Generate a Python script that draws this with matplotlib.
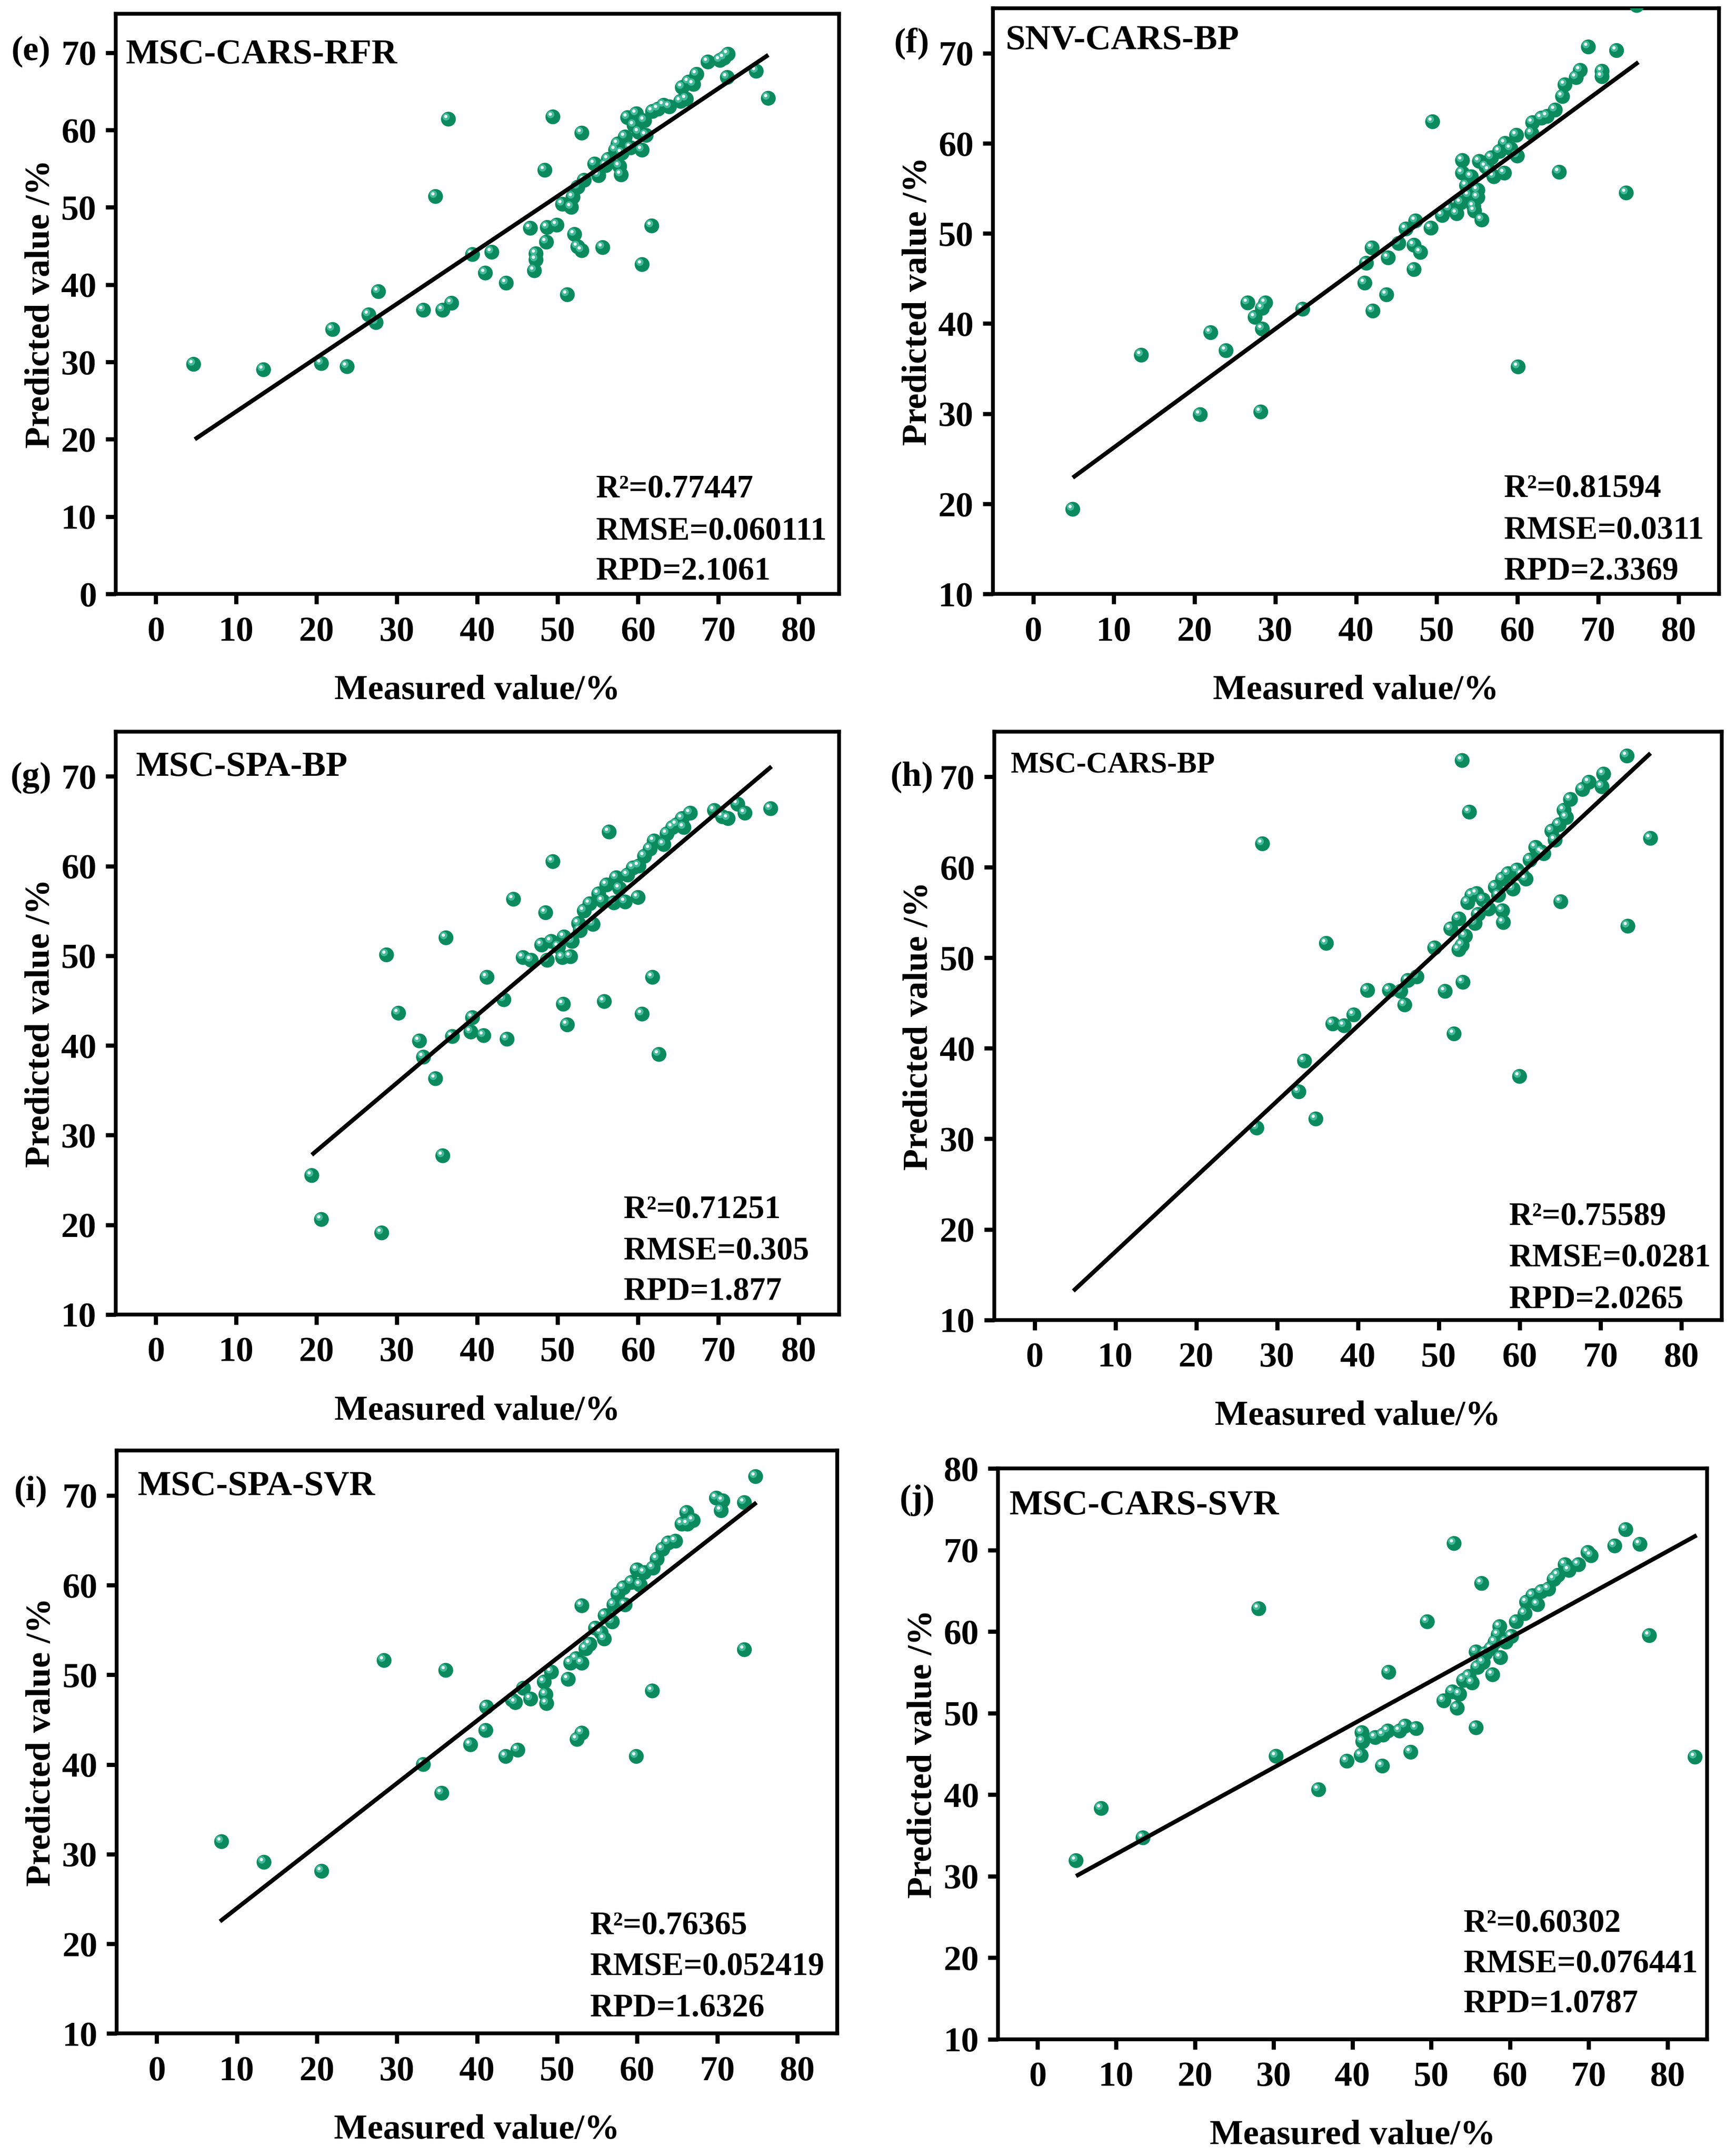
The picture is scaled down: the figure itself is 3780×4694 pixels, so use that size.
import numpy as np
import matplotlib
matplotlib.use('Agg')
import matplotlib.pyplot as plt
from matplotlib.transforms import offset_copy

plt.rcParams['font.family'] = ['Liberation Serif', 'DejaVu Serif']
plt.rcParams['font.weight'] = 'bold'

# (e) MSC-CARS-RFR
e_meas = [4.7, 13.4, 20.6, 22.0, 23.8, 26.5, 27.4, 27.7, 33.3, 35.7, 36.8, 34.8, 36.4, 39.4, 41.8,
          41.0, 43.6, 46.6, 47.3, 47.3, 47.1, 48.7, 49.9, 48.6, 48.4, 49.4, 51.2, 50.6, 51.7, 52.1,
          52.5, 53.0, 51.9, 53.0, 52.5, 53.3, 54.6, 55.1, 55.6, 56.3, 57.2, 57.5, 57.7, 57.9, 58.4,
          58.7, 59.1, 59.8, 60.1, 60.5, 60.8, 61.0, 61.7, 60.5, 61.8, 62.5, 63.2, 63.9, 65.3, 66.0,
          65.5, 66.3, 66.9, 67.3, 68.7, 70.2, 70.7, 71.2, 71.1, 74.7, 76.2, 56.0, 58.0, 59.5]
e_pred = [29.7, 29.0, 29.8, 34.2, 29.4, 36.1, 35.1, 39.1, 36.7, 36.7, 37.6, 51.4, 61.4, 43.9, 44.2,
          41.5, 40.2, 47.3, 44.0, 43.2, 41.8, 47.4, 47.7, 45.5, 54.8, 61.7, 38.7, 50.4, 50.0, 46.5,
          44.9, 44.4, 51.3, 59.6, 52.6, 53.5, 55.6, 54.1, 44.8, 56.2, 57.4, 58.2, 55.3, 54.2, 59.1,
          61.6, 57.7, 62.1, 59.7, 57.4, 61.2, 59.3, 47.6, 42.6, 62.4, 62.7, 63.2, 63.0, 63.7, 64.0,
          65.5, 66.2, 65.9, 67.2, 68.8, 69.0, 69.3, 69.8, 66.8, 67.6, 64.1, 55.4, 57.0, 60.6]
e_line_x = [4.85, 76.2]
e_line_y = [20.0, 69.7]

# (f) SNV-CARS-BP
f_meas = [4.9, 13.4, 20.7, 22.0, 23.9, 26.6, 27.5, 28.4, 28.8, 28.4, 28.2, 33.4, 41.1, 41.3, 42.0,
          42.1, 44.0, 43.8, 45.3, 46.2, 47.2, 48.0, 47.2, 47.4, 49.3, 49.5, 50.7, 51.6, 52.5, 53.0,
          53.2, 53.2, 53.7, 54.3, 54.6, 54.7, 55.1, 55.1, 55.3, 55.6, 56.1, 56.8, 57.1, 57.8, 58.5,
          58.4, 59.2, 59.9, 60.0, 60.1, 61.8, 61.9, 63.0, 63.7, 64.7, 65.2, 65.6, 65.9, 67.3, 67.8,
          68.8, 70.5, 70.5, 72.3, 73.5, 74.8, 54.0, 56.5]
f_pred = [19.4, 36.5, 29.9, 39.0, 37.0, 42.3, 40.7, 41.7, 42.3, 39.4, 30.2, 41.6, 44.5, 46.7, 48.4,
          41.4, 47.3, 43.2, 48.9, 50.5, 48.7, 47.9, 46.0, 51.4, 50.6, 62.4, 52.0, 52.7, 52.2, 53.4,
          58.1, 56.7, 55.3, 56.3, 53.0, 52.5, 54.8, 54.0, 58.0, 51.5, 57.4, 58.4, 56.3, 59.1, 60.0,
          56.7, 59.4, 60.9, 58.6, 35.2, 61.1, 62.3, 62.8, 63.0, 63.7, 56.8, 65.2, 66.5, 67.3, 68.1,
          70.7, 68.0, 67.4, 70.3, 54.5, 75.3, 54.2, 57.0]
f_line_x = [4.9, 75.0]
f_line_y = [22.9, 69.0]

# (g) MSC-SPA-BP
g_meas = [19.4, 20.6, 28.1, 28.7, 30.2, 32.8, 33.3, 34.8, 35.7, 36.1, 36.9, 39.2, 39.4, 40.8, 41.2,
          43.3, 43.7, 44.5, 45.7, 46.7, 48.0, 48.5, 48.7, 49.2, 49.4, 50.1, 50.6, 50.7, 50.8, 51.2,
          51.6, 51.8, 52.6, 52.8, 53.3, 54.0, 54.4, 55.1, 55.6, 55.8, 56.1, 56.4, 57.0, 57.3, 57.7,
          58.4, 58.7, 59.4, 60.0, 60.1, 60.5, 60.8, 61.5, 61.8, 62.0, 62.6, 63.2, 63.6, 64.3, 64.8,
          65.5, 65.7, 66.5, 69.5, 70.5, 71.2, 72.4, 73.3, 76.5]
g_pred = [25.5, 20.6, 19.1, 50.1, 43.6, 40.5, 38.7, 36.3, 27.7, 52.0, 41.0, 41.5, 43.1, 41.1, 47.6,
          45.1, 40.7, 56.3, 49.8, 49.5, 51.2, 54.8, 49.5, 51.6, 60.5, 51.0, 49.8, 44.6, 52.1, 42.3,
          49.9, 51.6, 53.6, 52.8, 55.0, 55.8, 53.5, 56.9, 56.1, 44.9, 57.9, 63.8, 55.9, 58.7, 57.5,
          56.0, 59.0, 59.8, 56.5, 60.0, 43.5, 61.1, 61.9, 47.6, 62.8, 39.0, 62.4, 63.6, 64.3, 64.6,
          65.3, 64.3, 65.9, 66.2, 65.5, 65.3, 66.9, 65.9, 66.4]
g_line_x = [19.4, 76.6]
g_line_y = [27.8, 71.1]

# (h) MSC-CARS-BP
h_meas = [27.5, 28.2, 32.7, 33.4, 34.8, 36.1, 36.9, 38.3, 39.5, 41.2, 43.9, 45.3, 45.8, 46.2, 47.3,
          49.5, 50.8, 51.9, 51.5, 52.5, 52.9, 52.5, 53.0, 52.9, 53.3, 53.6, 53.8, 54.1, 54.5, 54.7,
          54.9, 55.5, 56.2, 57.0, 57.4, 57.9, 57.9, 58.0, 58.6, 59.2, 59.7, 60.3, 60.8, 60.0, 61.3,
          62.0, 62.7, 63.0, 64.0, 64.4, 64.9, 65.1, 65.5, 65.8, 66.3, 67.8, 68.6, 70.2, 70.4, 73.3,
          73.4, 76.2]
h_pred = [31.2, 62.6, 35.2, 38.6, 32.2, 51.6, 42.7, 42.5, 43.7, 46.4, 46.4, 46.3, 44.8, 47.5, 47.9,
          51.1, 46.3, 41.6, 53.2, 50.9, 51.4, 54.3, 47.3, 71.8, 52.4, 56.1, 66.1, 56.9, 53.8, 57.1,
          54.8, 56.4, 55.4, 57.8, 56.9, 58.7, 55.2, 53.9, 59.3, 57.6, 59.7, 59.2, 58.7, 36.9, 60.8,
          62.2, 61.7, 61.5, 64.0, 63.0, 64.7, 56.2, 66.3, 65.5, 67.5, 68.6, 69.4, 68.9, 70.3, 72.3,
          53.5, 63.2]
h_line_x = [4.8, 76.2]
h_line_y = [13.2, 72.6]

# (i) MSC-SPA-SVR
i_meas = [8.1, 13.4, 20.6, 28.4, 33.3, 35.6, 36.1, 39.2, 41.1, 41.2, 43.6, 44.4, 45.1, 44.8, 45.8,
          46.7, 48.4, 48.6, 48.7, 49.3, 51.4, 51.7, 52.4, 52.5, 53.1, 53.1, 53.1, 53.6, 54.1, 54.8,
          55.5, 55.9, 56.0, 56.9, 57.1, 57.6, 58.3, 58.5, 59.3, 59.9, 60.0, 60.4, 60.9, 61.9, 62.0,
          62.5, 63.2, 63.9, 64.8, 65.6, 66.2, 66.3, 67.0, 69.9, 70.7, 70.5, 73.4, 73.4, 74.8]
i_pred = [31.4, 29.1, 28.1, 51.6, 40.0, 36.8, 50.5, 42.2, 43.8, 46.4, 40.9, 47.2, 41.6, 46.9, 48.5,
          47.3, 49.2, 47.8, 46.8, 50.3, 49.5, 51.3, 51.8, 42.8, 43.5, 57.7, 51.3, 52.9, 53.4, 55.2,
          54.7, 54.0, 56.6, 55.9, 57.8, 59.0, 59.7, 57.8, 60.3, 40.9, 61.7, 60.0, 61.4, 48.2, 61.9,
          62.9, 64.0, 64.7, 64.9, 66.8, 68.1, 66.8, 67.2, 69.7, 69.4, 68.3, 69.2, 52.8, 72.1]
i_line_x = [7.9, 74.9]
i_line_y = [22.5, 69.2]

# (j) MSC-CARS-SVR
j_meas = [4.9, 8.1, 13.4, 28.1, 30.3, 35.7, 39.3, 41.1, 41.2, 41.3, 42.9, 43.8, 43.9, 44.5, 44.6,
          46.0, 46.7, 47.4, 48.1, 49.5, 51.6, 52.7, 52.9, 53.3, 53.6, 54.1, 54.8, 55.2, 55.7, 55.7,
          55.9, 56.4, 56.6, 56.9, 57.6, 57.8, 58.1, 58.5, 58.7, 58.8, 59.5, 60.2, 60.8, 61.9, 62.1,
          62.9, 63.5, 64.0, 64.9, 65.6, 66.1, 67.0, 67.5, 68.7, 69.9, 70.3, 73.3, 74.7, 76.5, 77.7,
          83.5]
j_pred = [31.9, 38.3, 34.7, 62.8, 44.7, 40.6, 44.1, 44.8, 47.6, 46.5, 47.0, 43.5, 47.3, 47.8, 55.0,
          47.8, 48.4, 45.2, 48.1, 61.2, 51.5, 52.6, 70.8, 50.6, 52.3, 54.0, 54.5, 53.7, 48.2, 57.5,
          55.6, 65.9, 56.2, 57.3, 57.9, 54.7, 58.7, 59.6, 60.6, 56.8, 58.7, 59.4, 61.2, 62.2, 63.6,
          64.4, 63.3, 64.9, 65.2, 66.4, 66.9, 68.2, 67.5, 68.2, 69.7, 69.3, 70.5, 72.5, 70.7, 59.5,
          44.6]
j_line_x = [4.9, 83.7]
j_line_y = [30.0, 71.8]

panel_tags = ['(e)', '(f)', '(g)', '(h)', '(i)', '(j)']
model_names = ['MSC-CARS-RFR', 'SNV-CARS-BP', 'MSC-SPA-BP', 'MSC-CARS-BP', 'MSC-SPA-SVR', 'MSC-CARS-SVR']
r2_texts = ['0.77447', '0.81594', '0.71251', '0.75589', '0.76365', '0.60302']
rmse_texts = ['0.060111', '0.0311', '0.305', '0.0281', '0.052419', '0.076441']
rpd_texts = ['2.1061', '2.3369', '1.877', '2.0265', '1.6326', '1.0787']

meas_all = [e_meas, f_meas, g_meas, h_meas, i_meas, j_meas]
pred_all = [e_pred, f_pred, g_pred, h_pred, i_pred, j_pred]
linex_all = [e_line_x, f_line_x, g_line_x, h_line_x, i_line_x, j_line_x]
liney_all = [e_line_y, f_line_y, g_line_y, h_line_y, i_line_y, j_line_y]

# layout per panel
boxes = [[0.0666, 0.7245, 0.4166, 0.269],
         [0.5718, 0.7245, 0.4182, 0.2717],
         [0.0666, 0.3903, 0.4166, 0.2704],
         [0.5725, 0.3878, 0.4190, 0.2729],
         [0.0672, 0.0568, 0.4150, 0.2704],
         [0.5748, 0.0542, 0.4082, 0.2647]]
ylims = [(0, 75), (10, 75), (10, 75), (10, 75), (10, 75), (10, 80)]
yticks_all = [np.arange(0, 71, 10), np.arange(10, 71, 10), np.arange(10, 71, 10),
              np.arange(10, 71, 10), np.arange(10, 71, 10), np.arange(10, 81, 10)]
tag_pos = [(-0.117, 0.935), (-0.112, 0.939), (-0.117, 0.921), (-0.113, 0.922), (-0.119, 0.930), (-0.114, 0.944)]
name_pos = [(0.014, 0.915), (0.018, 0.930), (0.028, 0.924), (0.023, 0.931), (0.029, 0.924), (0.016, 0.920)]
name_size = [18.5, 18.5, 18.5, 15.5, 18.5, 18.5]
stat_x = [0.664, 0.704, 0.702, 0.708, 0.657, 0.657]
stat_y = [(0.166, 0.093, 0.024), (0.165, 0.094, 0.024), (0.165, 0.094, 0.025),
          (0.161, 0.091, 0.020), (0.170, 0.100, 0.029), (0.188, 0.117, 0.047)]

green = '#0b8a5e'
fig = plt.figure(figsize=(12.603, 15.647), dpi=300)

for k in range(6):
    ax = fig.add_axes(boxes[k])
    hl1 = offset_copy(ax.transData, fig=fig, x=-1.2, y=1.2, units='points')
    hl2 = offset_copy(ax.transData, fig=fig, x=-1.4, y=1.4, units='points')
    ax.scatter(meas_all[k], pred_all[k], s=60, color=green, edgecolors='none', zorder=3)
    ax.scatter(meas_all[k], pred_all[k], s=15, color='#43b99a', edgecolors='none', zorder=4, transform=hl1)
    ax.scatter(meas_all[k], pred_all[k], s=3, color='#eefcf7', edgecolors='none', zorder=5, transform=hl2)
    ax.plot(linex_all[k], liney_all[k], color='black', lw=2.2, zorder=6, solid_capstyle='butt')

    ax.set_xlim(-5, 85)
    ax.set_ylim(*ylims[k])
    ax.set_xticks(np.arange(0, 81, 10))
    ax.set_yticks(yticks_all[k])
    for sp in ax.spines.values():
        sp.set_linewidth(2.0)
    ax.tick_params(axis='both', direction='out', length=5.2, width=2.2, labelsize=18.5)
    ax.tick_params(axis='x', pad=6.4)
    ax.tick_params(axis='y', pad=4.8)
    for lab in ax.get_xticklabels() + ax.get_yticklabels():
        lab.set_fontweight('bold')
    ax.set_xlabel('Measured value/%', fontsize=18.5, fontweight='bold', labelpad=14)
    ax.set_ylabel('Predicted value /%', fontsize=18.5, fontweight='bold', labelpad=2.5)

    ax.text(tag_pos[k][0], tag_pos[k][1], panel_tags[k], transform=ax.transAxes,
            ha='center', va='center', fontsize=18.5, fontweight='bold')
    ax.text(name_pos[k][0], name_pos[k][1], model_names[k], transform=ax.transAxes,
            ha='left', va='baseline', fontsize=name_size[k], fontweight='bold')
    ax.text(stat_x[k], stat_y[k][0], 'R\u00b2=' + r2_texts[k], transform=ax.transAxes,
            ha='left', va='baseline', fontsize=17, fontweight='bold')
    ax.text(stat_x[k], stat_y[k][1], 'RMSE=' + rmse_texts[k], transform=ax.transAxes,
            ha='left', va='baseline', fontsize=17, fontweight='bold')
    ax.text(stat_x[k], stat_y[k][2], 'RPD=' + rpd_texts[k], transform=ax.transAxes,
            ha='left', va='baseline', fontsize=17, fontweight='bold')

fig.savefig('out.png', dpi=300)
